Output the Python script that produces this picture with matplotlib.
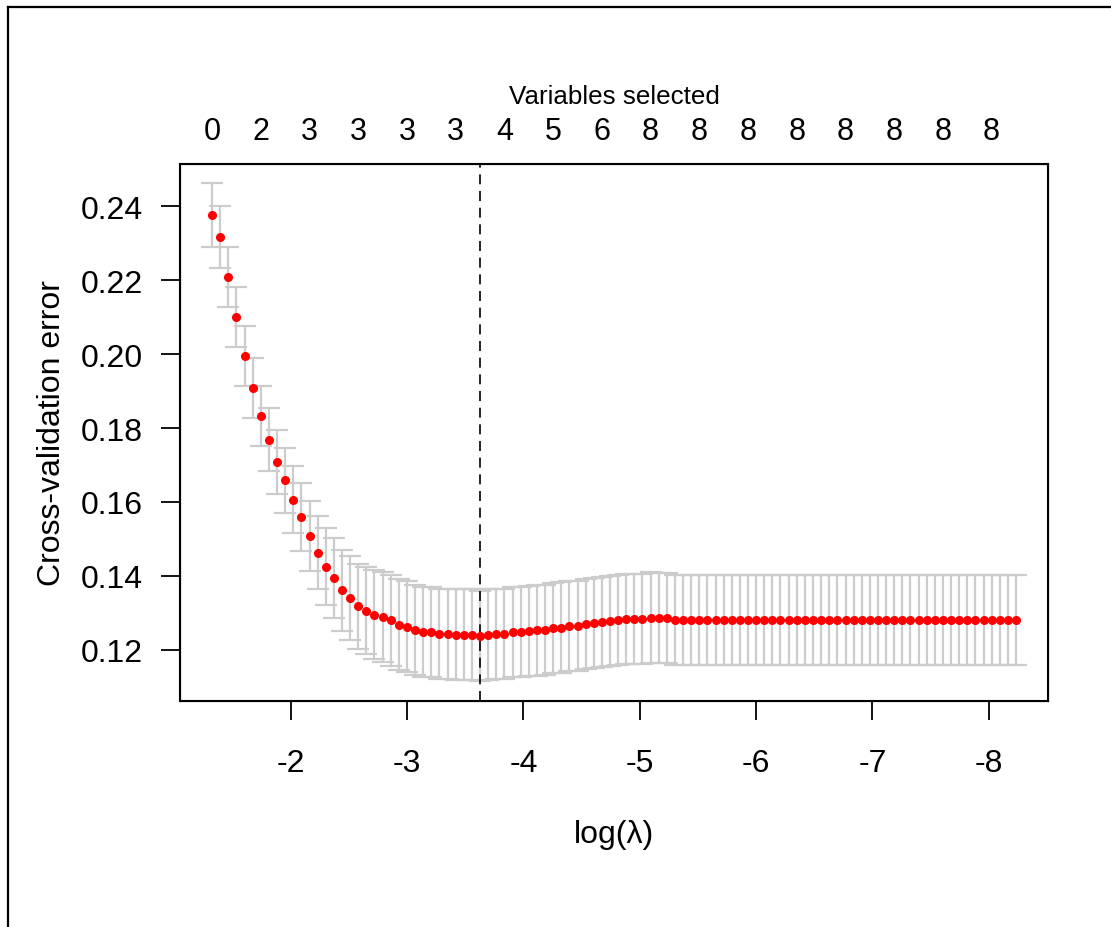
import matplotlib
matplotlib.use("Agg")
import matplotlib.pyplot as plt
from matplotlib.lines import Line2D

plt.rcParams['font.family'] = ['Liberation Sans', 'DejaVu Sans']

# log(lambda) path, 100 values
log_lambda = [
    -1.323, -1.393, -1.463, -1.532, -1.602, -1.672, -1.742, -1.812, -1.882, -1.951,
    -2.021, -2.091, -2.161, -2.231, -2.300, -2.370, -2.440, -2.510, -2.580, -2.650,
    -2.719, -2.789, -2.859, -2.929, -2.999, -3.068, -3.138, -3.208, -3.278, -3.348,
    -3.418, -3.487, -3.557, -3.627, -3.697, -3.767, -3.836, -3.906, -3.976, -4.046,
    -4.116, -4.185, -4.255, -4.325, -4.395, -4.465, -4.535, -4.604, -4.674, -4.744,
    -4.814, -4.884, -4.953, -5.023, -5.093, -5.163, -5.233, -5.303, -5.372, -5.442,
    -5.512, -5.582, -5.652, -5.721, -5.791, -5.861, -5.931, -6.001, -6.071, -6.140,
    -6.210, -6.280, -6.350, -6.420, -6.489, -6.559, -6.629, -6.699, -6.769, -6.839,
    -6.908, -6.978, -7.048, -7.118, -7.188, -7.257, -7.327, -7.397, -7.467, -7.537,
    -7.607, -7.676, -7.746, -7.816, -7.886, -7.956, -8.025, -8.095, -8.165, -8.235,
]

# mean cross-validation error
cv_mean = [
    0.2377, 0.2317, 0.2208, 0.2100, 0.1996, 0.1908, 0.1833, 0.1768, 0.1708, 0.1659,
    0.1606, 0.1558, 0.1508, 0.1463, 0.1425, 0.1393, 0.1361, 0.1339, 0.1317, 0.1306,
    0.1295, 0.1288, 0.1279, 0.1268, 0.1262, 0.1254, 0.1249, 0.1248, 0.1243, 0.1242,
    0.1241, 0.1241, 0.1241, 0.1237, 0.1241, 0.1242, 0.1243, 0.1247, 0.1248, 0.1251,
    0.1252, 0.1254, 0.1258, 0.1260, 0.1264, 0.1265, 0.1270, 0.1271, 0.1275, 0.1277,
    0.1281, 0.1282, 0.1282, 0.1282, 0.1287, 0.1286, 0.1286, 0.1280, 0.1280, 0.1280,
    0.1280, 0.1280, 0.1280, 0.1280, 0.1280, 0.1280, 0.1280, 0.1280, 0.1280, 0.1280,
    0.1280, 0.1280, 0.1280, 0.1280, 0.1280, 0.1280, 0.1280, 0.1280, 0.1280, 0.1280,
    0.1280, 0.1280, 0.1280, 0.1280, 0.1280, 0.1280, 0.1280, 0.1280, 0.1280, 0.1280,
    0.1280, 0.1280, 0.1280, 0.1280, 0.1280, 0.1280, 0.1280, 0.1280, 0.1280, 0.1280,
]

# standard error of the cv error
cv_sd = [
    0.0087, 0.0083, 0.0081, 0.0081, 0.0081, 0.0081, 0.0082, 0.0085, 0.0087, 0.0088,
    0.0091, 0.0092, 0.0095, 0.0100, 0.0105, 0.0108, 0.0110, 0.0114, 0.0116, 0.0118,
    0.0120, 0.0121, 0.0122, 0.0123, 0.0123, 0.0122, 0.0122, 0.0122, 0.0122, 0.0122,
    0.0122, 0.0122, 0.0122, 0.0122, 0.0122, 0.0122, 0.0122, 0.0122, 0.0122, 0.0122,
    0.0122, 0.0122, 0.0122, 0.0122, 0.0122, 0.0122, 0.0122, 0.0122, 0.0122, 0.0122,
    0.0122, 0.0122, 0.0122, 0.0122, 0.0122, 0.0122, 0.0122, 0.0122, 0.0122, 0.0122,
    0.0122, 0.0122, 0.0122, 0.0122, 0.0122, 0.0122, 0.0122, 0.0122, 0.0122, 0.0122,
    0.0122, 0.0122, 0.0122, 0.0122, 0.0122, 0.0122, 0.0122, 0.0122, 0.0122, 0.0122,
    0.0122, 0.0122, 0.0122, 0.0122, 0.0122, 0.0122, 0.0122, 0.0122, 0.0122, 0.0122,
    0.0122, 0.0122, 0.0122, 0.0122, 0.0122, 0.0122, 0.0122, 0.0122, 0.0122, 0.0122,
]

lambda_min_log = -3.627

# number of nonzero coefficients shown on top (every 6th lambda)
top_idx = [0, 6, 12, 18, 24, 30, 36, 42, 48, 54, 60, 66, 72, 78, 84, 90, 96]
n_vars = ['0', '2', '3', '3', '3', '3', '4', '5', '6', '8', '8', '8', '8', '8', '8', '8', '8']

x_ticks = [-2, -3, -4, -5, -6, -7, -8]
y_ticks = [0.12, 0.14, 0.16, 0.18, 0.20, 0.22, 0.24]

fig = plt.figure(figsize=(11.11, 9.28), dpi=100)
ax = fig.add_axes([180 / 1111, 1 - 702 / 928, 868 / 1111, 537 / 928])

ax.errorbar(log_lambda, cv_mean, yerr=cv_sd, fmt='none', ecolor='#cccccc',
            elinewidth=1.6, capsize=8, capthick=1.6, zorder=1)
ax.plot(log_lambda, cv_mean, 'o', color='red', ms=5.5, mec='red', zorder=3)
ax.axvline(lambda_min_log, color='black', lw=1.2, ls=(0, (6, 4)), zorder=2)

ax.set_xlim(-1.047, -8.51)
ax.set_ylim(0.1061, 0.2515)
ax.set_xticks(x_ticks)
ax.set_xticklabels([str(v) for v in x_ticks])
ax.set_yticks(y_ticks)
ax.set_yticklabels([f'{v:.2f}' for v in y_ticks])
ax.tick_params(axis='both', direction='out', length=13.7, width=1.3, labelsize=23, colors='black')
ax.tick_params(axis='x', pad=20)
ax.tick_params(axis='y', pad=13)
for s in ax.spines.values():
    s.set_linewidth(1.5)

ax.set_xlabel('log(λ)', fontsize=23, labelpad=30)
ax.set_ylabel('Cross-validation error', fontsize=23, labelpad=10)

top = ax.twiny()
top.set_xlim(ax.get_xlim())
top.set_xticks([log_lambda[i] for i in top_idx])
top.set_xticklabels(n_vars)
top.tick_params(axis='x', length=0, labelsize=22, pad=13)
top.set_xlabel('Variables selected', fontsize=18.7, labelpad=9)

# frame lines on the outer edge
fig.add_artist(Line2D([8 / 1111, 1], [1 - 8 / 928, 1 - 8 / 928], transform=fig.transFigure, color='black', lw=1.6))
fig.add_artist(Line2D([8 / 1111, 8 / 1111], [0, 1 - 8 / 928], transform=fig.transFigure, color='black', lw=1.6))

fig.savefig('out.png', dpi=100, facecolor='white')
